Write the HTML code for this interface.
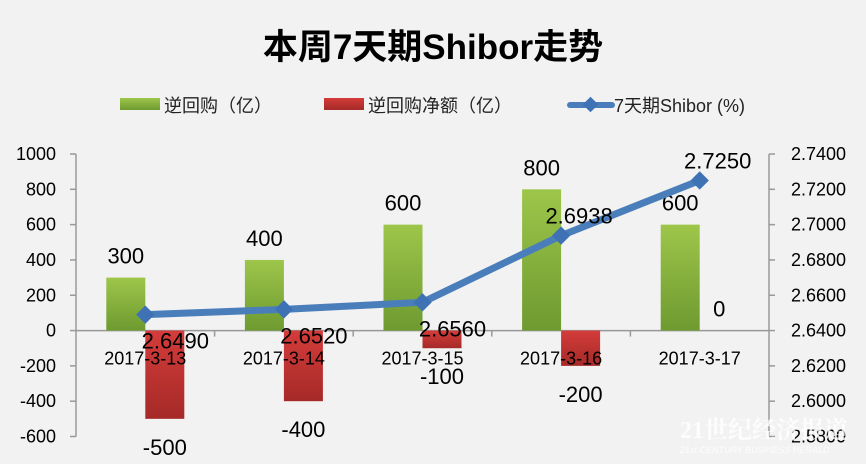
<!DOCTYPE html>
<html><head><meta charset="utf-8">
<style>
body{margin:0;background:#f2f2f2;}
svg{display:block;font-family:"Liberation Sans","Noto Sans CJK SC",sans-serif;}
</style></head>
<body>
<svg id="chart" width="866" height="464" viewBox="0 0 866 464" xmlns="http://www.w3.org/2000/svg">
<defs>
<linearGradient id="gg" x1="0" y1="0" x2="0" y2="1"><stop offset="0" stop-color="#9dc64a"/><stop offset="1" stop-color="#6e9a30"/></linearGradient>
<linearGradient id="rg" x1="0" y1="0" x2="0" y2="1"><stop offset="0" stop-color="#d43c3a"/><stop offset="1" stop-color="#a52a28"/></linearGradient>
</defs>
<rect width="866" height="464" fill="#f2f2f2"/>
<text x="433" y="59" text-anchor="middle" font-size="35" font-weight="bold" fill="#000">本周7天期Shibor走势</text>
<g>
<g><rect x="120" y="98" width="40" height="12" fill="url(#gg)"/><text x="164" y="112" font-size="18" fill="#222">逆回购（亿）</text></g>
<g><rect x="324" y="98" width="40" height="12" fill="url(#rg)"/><text x="368" y="112" font-size="18" fill="#222">逆回购净额（亿）</text></g>
<g><line x1="570" y1="105" x2="612" y2="105" stroke="#4a7ebb" stroke-width="6" stroke-linecap="round"/><rect x="585" y="99" width="11" height="11" fill="#3f72b5" transform="rotate(45 590.5 104.5)"/><text x="614" y="112" font-size="18" fill="#222">7天期Shibor (%)</text></g>
</g>
<g id="axes"></g>
<g id="marks"></g>
</svg>
<script>
const categories=["2017-3-13","2017-3-14","2017-3-15","2017-3-16","2017-3-17"];
const repo=[300,400,600,800,600];
const netRepo=[-500,-400,-100,-200,0];
const shibor=[2.649,2.652,2.656,2.6938,2.725];
const shiborLabels=["2.6490","2.6520","2.6560","2.6938","2.7250"];
const leftTicks=[1000,800,600,400,200,0,-200,-400,-600];
const rightTicks=["2.7400","2.7200","2.7000","2.6800","2.6600","2.6400","2.6200","2.6000","2.5800"];
const NS="http://www.w3.org/2000/svg";
const X0=76,X1=769,Y0=154,Y1=436.5;
const yL=v=>Y0+(1000-v)/1600*(Y1-Y0);
const yR=v=>Y0+(2.74-v)/0.16*(Y1-Y0);
const step=(X1-X0)/categories.length;
const xc=i=>X0+step*(i+0.5);
function mk(tag,attrs,parent,text){const e=document.createElementNS(NS,tag);for(const k in attrs)e.setAttribute(k,attrs[k]);if(text!==undefined)e.textContent=text;parent.appendChild(e);return e;}
const ax=document.getElementById('axes'),mg=document.getElementById('marks');
let e=mk('line',{x1:X0,y1:Y0,x2:X0,y2:Y1,stroke:'#999','stroke-width':1.5},ax);


e=mk('line',{x1:X1,y1:Y0,x2:X1,y2:Y1,stroke:'#999','stroke-width':1.5},ax);


leftTicks.forEach(v=>{const y=yL(v);mk('line',{x1:X0-6,y1:y,x2:X0,y2:y,stroke:'#999','stroke-width':1.5},ax);
const t=mk('text',{x:56,y:y+6,'text-anchor':'end','font-size':18,fill:'#000'},ax,String(v));

});
rightTicks.forEach(s=>{const y=yR(parseFloat(s));mk('line',{x1:X1,y1:y,x2:X1+6,y2:y,stroke:'#999','stroke-width':1.5},ax);
const t=mk('text',{x:846,y:y+6,'text-anchor':'end','font-size':18,fill:'#000'},ax,s);

});
const bw=39;
categories.forEach((c,i)=>{
 const x=xc(i);
 const g=mk('rect',{x:x-bw,y:yL(repo[i]),width:bw,height:yL(0)-yL(repo[i]),fill:'url(#gg)'},mg);
 
 
 const v=netRepo[i];
 const r=mk('rect',{x:x,y:Math.min(yL(0),yL(v)),width:bw,height:Math.abs(yL(v)-yL(0)),fill:'url(#rg)'},mg);
 
 
 const l1=mk('text',{x:x-bw/2,y:yL(repo[i])-14,'text-anchor':'middle','font-size':22,fill:'#000'},mg,String(repo[i]));
 
 
 const ly=v<0?yL(v)+36:yL(v)-14;
 const l2=mk('text',{x:x+bw/2,y:ly,'text-anchor':'middle','font-size':22,fill:'#000'},mg,String(v));
 
 
});
e=mk('line',{x1:X0,y1:yL(0),x2:X1,y2:yL(0),stroke:'#999','stroke-width':1.5},ax);


for(let i=1;i<categories.length;i++){mk('line',{x1:X0+step*i,y1:yL(0),x2:X0+step*i,y2:yL(0)+6,stroke:'#999','stroke-width':1.5},ax);}
categories.forEach((c,i)=>{const t=mk('text',{x:xc(i),y:yL(0)+34,'text-anchor':'middle','font-size':18,fill:'#000'},mg,c);

});
const pts=shibor.map((v,i)=>xc(i)+','+yR(v)).join(' ');
const pl=mk('polyline',{points:pts,fill:'none',stroke:'#4a7ebb','stroke-width':7,'stroke-linejoin':'round','stroke-linecap':'round'},mg);


shibor.forEach((v,i)=>{const x=xc(i),y=yR(v);
 const p=mk('rect',{x:x-6.5,y:y-6.5,width:13,height:13,fill:'#3f72b5',transform:`rotate(45 ${x} ${y})`},mg);
 
 
 const t=mk('text',{x:x+(i<3?30:18),y:i<3?y+34:y-12,'text-anchor':'middle','font-size':22,fill:'#000'},mg,shiborLabels[i]);
 
 
});
</script>
<div style="position:absolute;left:680px;top:410px;color:rgba(255,255,255,0.8);font:bold 24px 'Liberation Serif','Noto Serif CJK SC',serif;">21世纪经济报道<div style="font:italic 9px 'Liberation Sans',sans-serif;">21st CENTURY BUSINESS HERALD</div></div>
</body></html>
